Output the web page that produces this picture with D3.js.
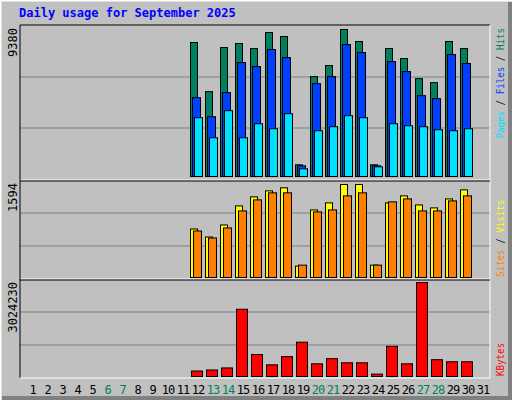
<!DOCTYPE html>
<html><head><meta charset="utf-8">
<script src="https://cdn.jsdelivr.net/npm/d3@7"></script>
<style>body{margin:0;background:#fff}</style></head>
<body><svg id="c" width="512" height="400"></svg>
<script>
// day data, 12..30 only; days without traffic are 0
const days = d3.range(1, 32);
const weekend = [6, 7, 13, 14, 20, 21, 27, 28];
const firstDay = 12;
const hits   = [8549,5415,8229,8485,8165,9188,8932,746,6374,7078,9380,8613,746,8165,7525,6246,5990,8613,8165];
const files  = [5031,3816,5351,7269,7014,8101,7589,682,5926,6374,8421,7909,682,7333,6694,5159,4967,7781,7206];
const pages  = [3752,2473,4200,2473,3368,3049,4008,490,2921,3177,3880,3752,618,3368,3240,3177,2985,2921,3049];
const visits = [831,694,900,1227,1382,1485,1537,195,1158,1279,1594,1594,212,1279,1399,1244,1193,1347,1502];
const sites  = [797,677,849,1141,1330,1451,1451,212,1124,1158,1399,1451,212,1296,1347,1141,1141,1313,1399];
const kbytes = [176592,209703,275925,2163252,706368,375258,640146,1103700,408369,573924,441480,441480,77259,971256,408369,3024230,540813,474591,474591];

const svg = d3.select("#c");
const font = "DejaVu Sans Mono";

// frame
svg.append("rect").attr("width", 512).attr("height", 400).attr("fill", "#c0c0c0");
svg.append("path").attr("d", "M0,400V0H512").attr("stroke", "#fff").attr("stroke-width", 3).attr("fill", "none");
svg.append("path").attr("d", "M2,398H510V2").attr("stroke", "#808080").attr("stroke-width", 4).attr("fill", "none");

svg.append("text").attr("x", 19).attr("y", 17).attr("font-family", font).attr("font-weight", "bold")
  .attr("font-size", 12).attr("fill", "#0000ff").text("Daily usage for September 2025");

const x = d3.scaleLinear().domain([1, 32]).range([25, 490]);

const panels = [
  {top: 25, bottom: 180, y: d3.scaleLinear().domain([0, 9380]).range([176, 29]), max: "9380",
   series: [[hits, "#00805c", 0, 7], [files, "#0040ff", 2, 8], [pages, "#00e0ff", 4, 8]],
   legendAt: 28, anchor: "end",
   legend: [["Pages", "#00e0ff"], [" / ", "#000"], ["Files", "#0040ff"], [" / ", "#000"], ["Hits", "#00805c"]]},
  {top: 180, bottom: 279, y: d3.scaleLinear().domain([0, 1594]).range([277, 184]), max: "1594",
   series: [[visits, "#ffff00", 0, 7], [sites, "#ff8000", 3, 8]],
   legendAt: 277, anchor: "start",
   legend: [["Sites", "#ff8000"], [" / ", "#000"], ["Visits", "#ffff00"]]},
  {top: 279, bottom: 378, y: d3.scaleLinear().domain([0, 3024230]).range([376, 282]), max: "3024230",
   series: [[kbytes, "#ff0000", 1, 11]],
   legendAt: 376, anchor: "start",
   legend: [["KBytes", "#ff0000"]]}
];

panels.forEach(p => {
  const h = p.bottom - p.top;
  [1, 2].forEach(i => {
    const gy = Math.round(p.top + h * i / 3);
    svg.append("line").attr("x1", 20).attr("x2", 490).attr("y1", gy).attr("y2", gy)
      .attr("stroke", "#808080").attr("stroke-width", 1);
  });
  p.series.forEach(([vals, col, off, w]) => {
    svg.append("g").selectAll("rect").data(vals).join("rect")
      .attr("x", (v, i) => x(firstDay + i) + off + 0.5)
      .attr("y", v => p.y(v) + 0.5)
      .attr("width", w)
      .attr("height", v => p.y(0) - p.y(v))
      .attr("fill", col).attr("stroke", "#000").attr("stroke-width", 1);
  });
  svg.append("text").attr("transform", `translate(17,${p.top + 3}) rotate(-90)`)
    .attr("text-anchor", "end").attr("font-family", font).attr("font-size", 12).attr("fill", "#000").text(p.max);
  const t = svg.append("text").attr("transform", `translate(504,${p.legendAt}) rotate(-90) scale(0.82,1)`)
    .attr("text-anchor", p.anchor).attr("font-family", font).attr("font-size", 11.2);
  p.legend.forEach(([s, c]) => t.append("tspan").attr("fill", c).text(s));
  // panel borders
  svg.append("line").attr("x1", 20).attr("x2", 490).attr("y1", p.top).attr("y2", p.top).attr("stroke", p.top === 25 ? "#000" : "#fff");
});

svg.append("line").attr("x1", 20).attr("x2", 20).attr("y1", 25).attr("y2", 378).attr("stroke", "#000");
svg.append("line").attr("x1", 20).attr("x2", 490).attr("y1", 378).attr("y2", 378).attr("stroke", "#fff");
svg.append("line").attr("x1", 490).attr("x2", 490).attr("y1", 25).attr("y2", 378).attr("stroke", "#fff");
[180, 279].forEach(yy => svg.append("line").attr("x1", 20).attr("x2", 490).attr("y1", yy + 1).attr("y2", yy + 1).attr("stroke", "#000"));

svg.append("g").selectAll("text").data(days).join("text")
  .attr("x", d => x(d) + 8).attr("y", 394).attr("text-anchor", "middle")
  .attr("font-family", font).attr("font-size", 12)
  .attr("letter-spacing", d => d >= 10 ? -1 : 0)
  .attr("fill", d => weekend.includes(d) ? "#00805c" : "#000").text(d => d);
</script></body></html>
